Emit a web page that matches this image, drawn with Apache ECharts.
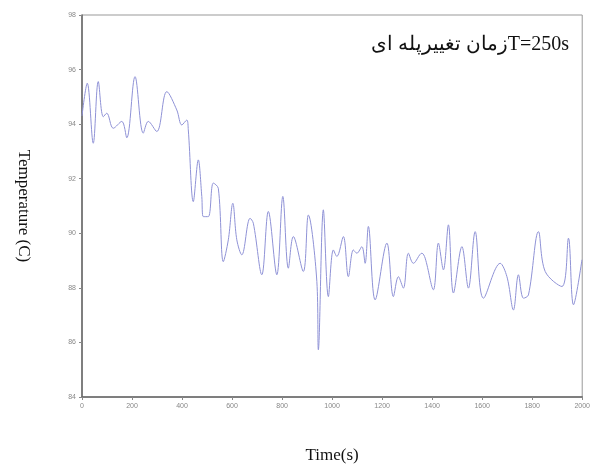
<!DOCTYPE html>
<html>
<head>
<meta charset="utf-8">
<script src="https://cdn.jsdelivr.net/npm/echarts@6/dist/echarts.min.js"></script>
<style>
  html, body { margin: 0; padding: 0; background: #fff; }
  #chart { width: 593px; height: 469px; }
</style>
</head>
<body>
<div id="chart"></div>
<script>
// time (s) of each traced point
const times = [0, 21, 45, 65, 85, 99, 125, 159, 179, 212, 245, 265, 299, 339, 379, 399, 419, 425,
  445, 465, 479, 485, 505, 525, 545, 565, 585, 603, 619, 639, 672, 685, 719, 745, 779, 803, 825,
  845, 885, 905, 939, 945, 965, 985, 1005, 1019, 1045, 1065, 1085, 1099, 1119, 1132, 1145, 1172,
  1219, 1245, 1265, 1285, 1305, 1325, 1359, 1372, 1405, 1425, 1445, 1465, 1485, 1519, 1545, 1572,
  1605, 1672, 1699, 1725, 1745, 1765, 1785, 1825, 1852, 1919, 1945, 1965, 1999]
// temperature (C)
const temps = [94.3, 95.5, 93.3, 95.56, 94.27, 94.4, 93.85, 94.1, 93.5, 95.74, 93.67, 94.1, 93.73,
  95.19, 94.52, 93.97, 94.15, 93.79, 91.16, 92.69, 91.35, 90.61, 90.61, 91.84, 91.65, 88.96, 89.76,
  91.1, 89.76, 89.21, 90.55, 90.37, 88.48, 90.8, 88.48, 91.35, 88.72, 89.88, 88.6, 90.67, 88.23,
  85.73, 90.86, 87.68, 89.39, 89.15, 89.88, 88.41, 89.39, 89.27, 89.51, 88.9, 90.25, 87.56, 89.64,
  87.68, 88.41, 87.99, 89.27, 88.9, 89.27, 89.09, 87.93, 89.64, 88.66, 90.31, 87.81, 89.51, 87.99,
  90.06, 87.62, 88.9, 88.41, 87.19, 88.48, 87.62, 87.74, 90.06, 88.6, 88.05, 89.82, 87.38, 89.03]

const xTicks = [0, 200, 400, 600, 800, 1000, 1200, 1400, 1600, 1800, 2000]
const yTicks = [84, 86, 88, 90, 92, 94, 96, 98]
const note = 'زمان تغییرپله ایT=250s'

const chart = echarts.init(document.getElementById('chart'))

chart.setOption({
  animation: false,
  grid: {
    left: 82,
    right: 10,
    top: 15,
    bottom: 72,
    show: true,
    borderColor: '#999',
    borderWidth: 1,
  },
  xAxis: {
    type: 'value',
    min: xTicks[0],
    max: xTicks[xTicks.length - 1],
    interval: 200,
    name: 'Time(s)',
    nameLocation: 'middle',
    nameGap: 50,
    nameTextStyle: { fontFamily: 'Liberation Serif', fontSize: 17, color: '#111' },
    axisLine: { lineStyle: { color: '#666', width: 1.5 } },
    axisTick: { length: 3, lineStyle: { color: '#888' } },
    axisLabel: { fontSize: 7, color: '#888', margin: 6, formatter: (v) => String(v) },
    splitLine: { show: false },
  },
  yAxis: {
    type: 'value',
    min: yTicks[0],
    max: yTicks[yTicks.length - 1],
    interval: 2,
    name: 'Temperature (C)',
    nameLocation: 'middle',
    nameRotate: -90,
    nameGap: 50,
    nameTextStyle: { fontFamily: 'Liberation Serif', fontSize: 17, color: '#111' },
    axisLine: { show: true, lineStyle: { color: '#666', width: 1.5 } },
    axisTick: { show: true, length: 3, lineStyle: { color: '#888' } },
    axisLabel: { fontSize: 7, color: '#888', margin: 6 },
    splitLine: { show: false },
  },
  graphic: [
    {
      type: 'text',
      right: 24,
      top: 35,
      style: {
        text: note,
        font: '20px "Liberation Serif", "DejaVu Serif"',
        fill: '#111',
      },
    },
  ],
  series: [
    {
      type: 'line',
      data: times.map((t, i) => [t, temps[i]]),
      smooth: 0.35,
      showSymbol: false,
      lineStyle: { color: '#8f92d6', width: 1 },
    },
  ],
})
</script>
</body>
</html>
